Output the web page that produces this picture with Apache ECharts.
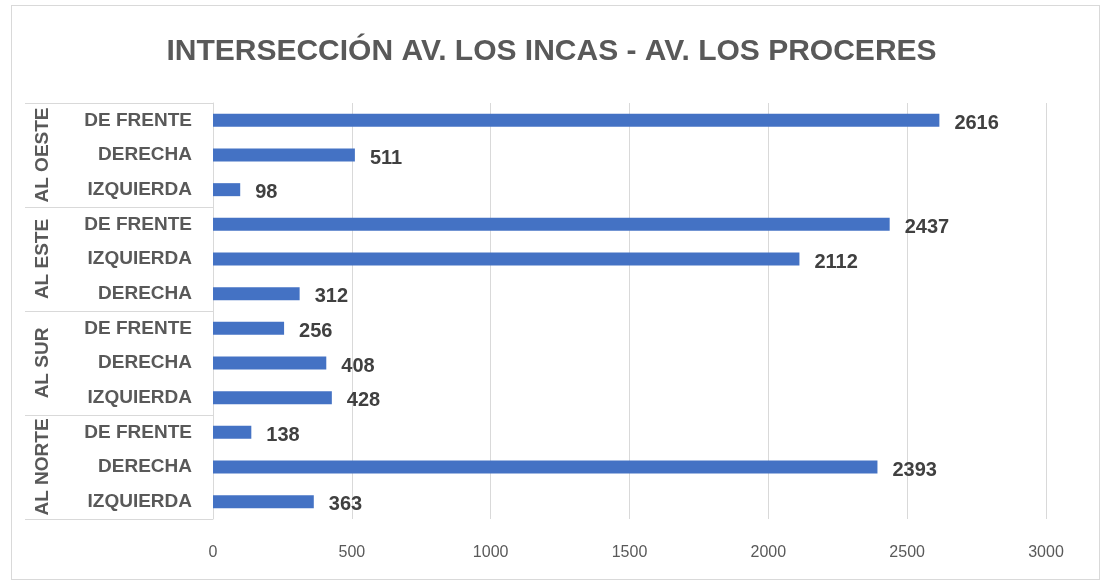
<!DOCTYPE html>
<html>
<head>
<meta charset="utf-8">
<script src="https://cdn.jsdelivr.net/npm/echarts@6/dist/echarts.min.js"></script>
<style>
html,body{margin:0;padding:0;background:#fff;}
#wrap{position:relative;width:1103px;height:581px;}
#chart{position:absolute;left:0;top:0;width:1103px;height:581px;}
#frame{position:absolute;left:11px;top:5px;width:1087px;height:573px;border:1px solid #d9d9d9;pointer-events:none;}
</style>
</head>
<body>
<div id="wrap"><div id="chart"></div><div id="frame"></div></div>
<script>
const titleText = 'INTERSECCIÓN AV. LOS INCAS - AV. LOS PROCERES';
const groups = ['AL OESTE', 'AL ESTE', 'AL SUR', 'AL NORTE'];
const subCategories = [
  'DE FRENTE', 'DERECHA', 'IZQUIERDA',
  'DE FRENTE', 'IZQUIERDA', 'DERECHA',
  'DE FRENTE', 'DERECHA', 'IZQUIERDA',
  'DE FRENTE', 'DERECHA', 'IZQUIERDA'
];
const values = [2616, 511, 98, 2437, 2112, 312, 256, 408, 428, 138, 2393, 363];
const xTicks = { min: 0, max: 3000, interval: 500 };

const font = "'Liberation Sans', Arial, sans-serif";
const chart = echarts.init(document.getElementById('chart'), null, { renderer: 'canvas' });
chart.setOption({
  backgroundColor: '#ffffff',
  animation: false,
  title: {
    text: titleText,
    left: 'center',
    top: 32,
    textStyle: { fontFamily: font, fontSize: 30, fontWeight: 'bold', color: '#595959' }
  },
  grid: { left: 213, right: 57, top: 103, bottom: 62, containLabel: false },
  xAxis: {
    type: 'value',
    min: xTicks.min, max: xTicks.max, interval: xTicks.interval,
    axisLine: { show: false },
    axisTick: { show: false },
    splitLine: { show: true, lineStyle: { color: '#d9d9d9', width: 1 } },
    axisLabel: { fontFamily: font, fontSize: 16, color: '#595959', margin: 26, formatter: function (v) { return String(v); } }
  },
  yAxis: [
    {
      type: 'category',
      data: subCategories,
      inverse: true,
      position: 'left',
      axisLine: { show: true, lineStyle: { color: '#d9d9d9', width: 1 } },
      axisTick: { show: false },
      axisLabel: { fontFamily: font, fontSize: 19, fontWeight: 'bold', color: '#595959', margin: 21 }
    },
    {
      type: 'category',
      data: groups,
      inverse: true,
      position: 'left',
      offset: 188,
      axisLine: { show: false },
      axisTick: { show: true, inside: true, length: 188, interval: 0, lineStyle: { color: '#d9d9d9', width: 1 } },
      axisLabel: { inside: true, rotate: 90, margin: 8, fontFamily: font, fontSize: 19, fontWeight: 'bold', color: '#595959', interval: 0 },
      splitLine: { show: false }
    }
  ],
  series: [{
    type: 'bar',
    yAxisIndex: 0,
    data: values,
    barWidth: 13,
    itemStyle: { color: '#4472C4' },
    label: {
      show: true,
      position: 'right',
      distance: 15,
      offset: [0, 3],
      fontFamily: font,
      fontSize: 20,
      fontWeight: 'bold',
      color: '#404040'
    }
  }]
});
</script>
</body>
</html>
